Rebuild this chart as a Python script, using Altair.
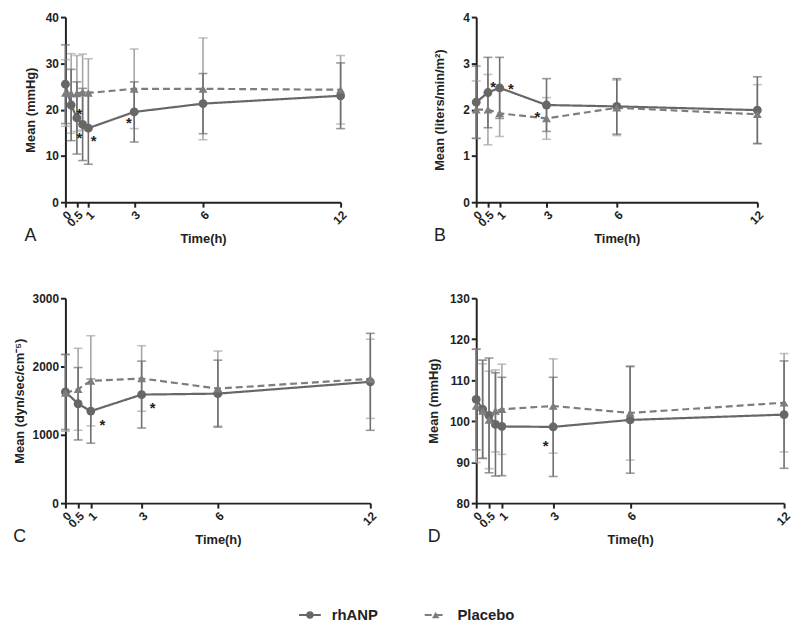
import altair as alt
import pandas as pd

FONT = "Liberation Sans"
RH = "rhANP"
PL = "Placebo"

# ---------------- data ----------------
times_A = [0, 0.25, 0.5, 0.75, 1, 3, 6, 12]
A_rh_mean = [25.5, 21.0, 18.2, 16.8, 16.0, 19.5, 21.3, 23.0]
A_rh_sd = [8.5, 7.7, 7.8, 7.8, 7.8, 6.5, 6.5, 7.1]
A_pl_mean = [23.6, 23.5, 23.5, 23.8, 23.6, 24.5, 24.5, 24.3]
A_pl_sd = [7.2, 8.6, 8.2, 8.2, 7.4, 8.6, 11.0, 7.4]
A_star_t = [0.61, 0.61, 1.23, 2.77]
A_star_v = [19.8, 14.7, 14.0, 18.0]

times_B = [0, 0.5, 1, 3, 6, 12]
B_rh_mean = [2.16, 2.37, 2.47, 2.10, 2.07, 1.99]
B_rh_sd = [0.78, 0.76, 0.66, 0.57, 0.60, 0.72]
B_pl_mean = [2.00, 2.00, 1.92, 1.81, 2.04, 1.90]
B_pl_sd = [0.62, 0.76, 0.50, 0.45, 0.60, 0.64]
B_star_t = [0.72, 1.48, 2.61]
B_star_v = [2.58, 2.53, 1.93]

times_C = [0, 0.5, 1, 3, 6, 12]
C_rh_mean = [1628, 1455, 1347, 1589, 1603, 1776]
C_rh_sd = [550, 530, 470, 490, 490, 710]
C_pl_mean = [1613, 1667, 1791, 1825, 1677, 1820]
C_pl_sd = [560, 600, 660, 480, 550, 580]
C_star_t = [1.46, 3.43]
C_star_v = [1199, 1455]

times_D = [0, 0.25, 0.5, 0.75, 1, 3, 6, 12]
D_rh_mean = [105.3, 102.9, 101.4, 99.2, 98.7, 98.6, 100.3, 101.6]
D_rh_sd = [12.3, 12.0, 14.0, 12.6, 12.0, 12.1, 13.0, 13.1]
D_pl_mean = [103.7, 102.5, 100.3, 102.5, 102.9, 103.7, 102.0, 104.5]
D_pl_sd = [13.8, 11.5, 11.9, 10.0, 11.0, 11.5, 11.5, 12.0]
D_star_t = [2.71]
D_star_v = [95.0]

x_ticks = [0, 0.5, 1, 3, 6, 12]
series_names = [RH, PL]
legend_pos = [0, 1]

# ---------------- styles ----------------
RH_COL = "#676767"
PL_COL = "#7d7d7d"
RH_EB = "#6f6f6f"
PL_EB = "#a6a6a6"


def make_df(times, rm, rs, pm, ps):
    rows = []
    for t, m, s in zip(times, rm, rs):
        rows.append(dict(t=t, mean=m, lo=m - s, hi=m + s, series=RH))
    for t, m, s in zip(times, pm, ps):
        rows.append(dict(t=t, mean=m, lo=m - s, hi=m + s, series=PL))
    return pd.DataFrame(rows)


def panel(times, rm, rs, pm, ps, st, sv, ydom, yvals, ytitle, letter, w, h, tpad):
    df = make_df(times, rm, rs, pm, ps)
    stars = pd.DataFrame({"t": st, "mean": sv})
    xaxis = alt.Axis(values=x_ticks, format="~g", title="Time(h)", labelAngle=315,
                     labelOverlap=False, labelFlush=False, labelPadding=2, titlePadding=4)
    xenc = alt.X("t:Q", scale=alt.Scale(domain=[0, 12], nice=False, zero=False), axis=xaxis)
    yscale = alt.Scale(domain=ydom, nice=False, zero=False)
    yaxis = alt.Axis(values=yvals, format="d", title=ytitle, titlePadding=tpad)

    base = alt.Chart(df)
    layers = []
    for s, ebc in [(PL, PL_EB), (RH, RH_EB)]:
        b = base.transform_filter(alt.datum.series == s)
        layers.append(b.mark_rule(color=ebc, strokeWidth=1.6).encode(
            x=xenc, y=alt.Y("lo:Q", scale=yscale, axis=yaxis), y2="hi:Q"))
        layers.append(b.mark_tick(color=ebc, orient="horizontal", size=9, thickness=1.6).encode(
            x=xenc, y=alt.Y("lo:Q", scale=yscale, axis=yaxis)))
        layers.append(b.mark_tick(color=ebc, orient="horizontal", size=9, thickness=1.6).encode(
            x=xenc, y=alt.Y("hi:Q", scale=yscale, axis=yaxis)))

    color = alt.Color("series:N", scale=alt.Scale(domain=series_names, range=[RH_COL, PL_COL]), legend=None)
    line = base.mark_line(strokeWidth=2.2).encode(
        x=xenc, y=alt.Y("mean:Q", scale=yscale, axis=yaxis), color=color,
        strokeDash=alt.StrokeDash("series:N", scale=alt.Scale(domain=series_names, range=[[1, 0], [7, 4]]), legend=None))
    pts = base.mark_point(filled=True, size=80, opacity=1).encode(
        x=xenc, y=alt.Y("mean:Q", scale=yscale, axis=yaxis), color=color,
        shape=alt.Shape("series:N", scale=alt.Scale(domain=series_names, range=["circle", "triangle-up"]), legend=None))
    star = alt.Chart(stars).mark_text(text="*", fontSize=15, fontWeight="bold", color="#222", dy=4, font=FONT).encode(
        x=xenc, y=alt.Y("mean:Q", scale=yscale, axis=yaxis))
    return alt.layer(*layers, line, pts, star).properties(
        width=w, height=h,
        title=alt.TitleParams(letter, orient="bottom", anchor="start", frame="bounds", offset=-18,
                              fontSize=18, fontWeight="normal", font=FONT, color="#222"))


A = panel(times_A, A_rh_mean, A_rh_sd, A_pl_mean, A_pl_sd, A_star_t, A_star_v,
          [0, 40], [0, 10, 20, 30, 40], "Mean (mmHg)", "A", 278, 187, 8)
B = panel(times_B, B_rh_mean, B_rh_sd, B_pl_mean, B_pl_sd, B_star_t, B_star_v,
          [0, 4], [0, 1, 2, 3, 4], "Mean (liters/min/m²)", "B", 284, 187, 16)
C = panel(times_C, C_rh_mean, C_rh_sd, C_pl_mean, C_pl_sd, C_star_t, C_star_v,
          [0, 3000], [0, 1000, 2000, 3000], "Mean (dyn/sec/cm⁻⁵)", "C", 308, 207, 6)
D = panel(times_D, D_rh_mean, D_rh_sd, D_pl_mean, D_pl_sd, D_star_t, D_star_v,
          [80, 130], [80, 90, 100, 110, 120, 130], "Mean (mmHg)", "D", 311, 207, 9)

# ---------------- custom legend ----------------
leg_df = pd.DataFrame({"series": series_names, "pos": legend_pos, "k": ["a", "a"]})
lx = alt.X("pos:Q", scale=alt.Scale(domain=[0, 1], range=[247, 374]), axis=None)
ly = alt.Y("k:N", axis=None)
lcolor = alt.Color("series:N", scale=alt.Scale(domain=series_names, range=[RH_COL, PL_COL]), legend=None)
lbase = alt.Chart(leg_df)
leg_rule = lbase.mark_rule(xOffset=-11, x2Offset=11, strokeWidth=2).encode(
    x=lx, x2="pos:Q", y=ly, color=lcolor,
    strokeDash=alt.StrokeDash("series:N", scale=alt.Scale(domain=series_names, range=[[1, 0], [4, 3]]), legend=None))
leg_pt = lbase.mark_point(filled=True, size=55, opacity=1).encode(
    x=lx, y=ly, color=lcolor,
    shape=alt.Shape("series:N", scale=alt.Scale(domain=series_names, range=["circle", "triangle-up"]), legend=None))
leg_txt = lbase.mark_text(align="left", baseline="middle", dx=22, fontSize=15, fontWeight="bold",
                          font=FONT, color="#222").encode(x=lx, y=ly, text="series:N")
legend = alt.layer(leg_rule, leg_pt, leg_txt).properties(width=660, height=26)

grid = alt.concat(A, B, C, D, columns=2, spacing={"row": 97, "column": 107}, bounds="flush")
chart = alt.vconcat(grid, legend, spacing=56).properties(
    padding={"left": 5, "top": 0, "right": 0, "bottom": 0}, background="white"
).configure_view(stroke=None).configure_axis(
    grid=False, domainColor="#222", domainWidth=2, tickColor="#222", tickWidth=2, tickSize=5,
    labelFont=FONT, labelFontWeight="bold", labelFontSize=12, labelColor="#222",
    titleFont=FONT, titleFontWeight="bold", titleFontSize=13, titleColor="#222"
)

chart.save("out.html", embed_options={"renderer": "svg", "actions": False})
